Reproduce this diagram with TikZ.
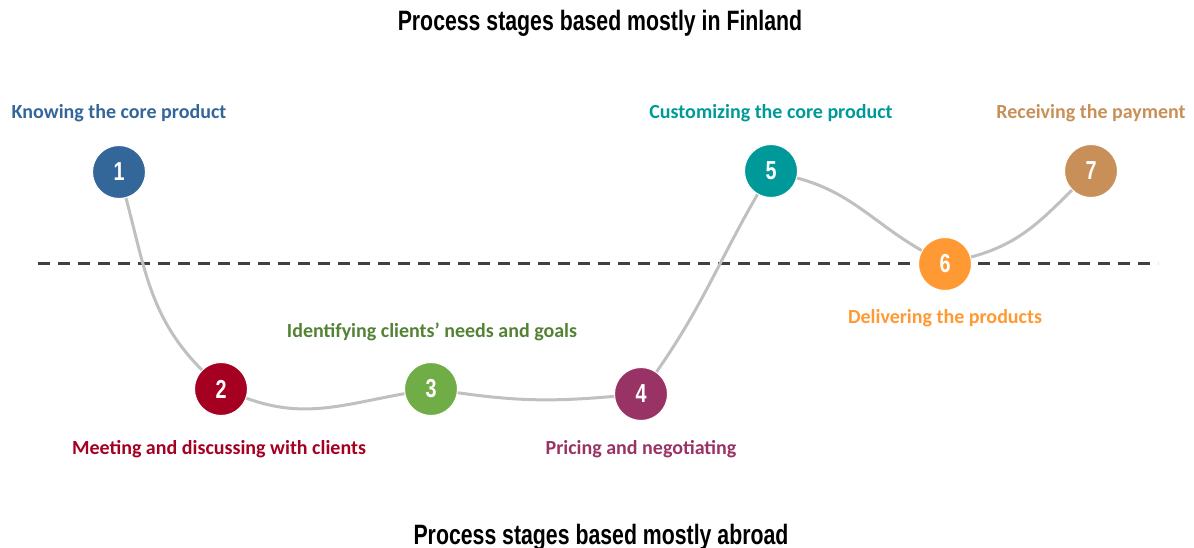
\documentclass[tikz,border=0pt]{standalone}
\usepackage{fontspec}
\setmainfont{Carlito}
\newfontfamily\headfont[FakeStretch=0.76]{Liberation Sans}
\definecolor{cOne}{HTML}{336699}
\definecolor{cTwo}{HTML}{A50021}
\definecolor{cThree}{HTML}{70AD47}
\definecolor{cThreeTxt}{HTML}{548235}
\definecolor{cFour}{HTML}{993366}
\definecolor{cFive}{HTML}{009999}
\definecolor{cSix}{HTML}{FF9933}
\definecolor{cSeven}{HTML}{C89058}
\definecolor{cWave}{HTML}{C0C0C0}
\definecolor{cDash}{HTML}{404040}
\tikzset{
  stage/.style={circle, fill=#1, draw=white, line width=1pt, minimum size=53pt, inner sep=0pt,
    text=white, font=\headfont\bfseries\fontsize{26}{26}\selectfont},
  stagelabel/.style={text=#1, font=\bfseries\fontsize{20}{20}\selectfont, inner sep=0pt},
  title/.style={font=\headfont\bfseries\fontsize{28}{28}\selectfont, inner sep=0pt},
  wave/.style={draw=cWave, line width=3pt}
}
\begin{document}
\begin{tikzpicture}[x=1pt,y=-1pt]
\useasboundingbox (0,0) rectangle (1194,548);
\node[title] (T_top) at (600,23) {Process stages based mostly in Finland};
\node[title] (T_bottom) at (601,537) {Process stages based mostly abroad};
\coordinate (D_left) at (38,263);
\coordinate (D_right) at (1158,263);
\draw[cDash, line width=3pt, dash pattern=on 12pt off 8pt] (D_left) -- (D_right);
\node[stage=cOne] (S_1) at (119,172) {1};
\node[stage=cTwo] (S_2) at (221,389) {2};
\node[stage=cThree] (S_3) at (431,389) {3};
\node[stage=cFour] (S_4) at (641,394) {4};
\node[stage=cFive] (S_5) at (771,171) {5};
\node[stage=cSix] (S_6) at (945,264) {6};
\node[stage=cSeven] (S_7) at (1091,171) {7};
\draw[wave] (S_1) to[out=-75,in=135] (S_2);
\draw[wave] (S_2) to[out=-20,in=190] (S_3);
\draw[wave] (S_3) to[out=-8,in=185] (S_4);
\draw[wave] (S_4) to[out=55,in=-120] (S_5);
\draw[wave] (S_5) to[out=-15,in=150] (S_6);
\draw[wave] (S_6) to[out=15,in=-135] (S_7);
\node[stagelabel=cOne] (L_1) at (119,113) {Knowing the core product};
\node[stagelabel=cTwo] (L_2) at (219,449) {Meeting and discussing with clients};
\node[stagelabel=cThreeTxt] (L_3) at (432,332) {Identifying clients’ needs and goals};
\node[stagelabel=cFour] (L_4) at (641,449) {Pricing and negotiating};
\node[stagelabel=cFive] (L_5) at (771,113) {Customizing the core product};
\node[stagelabel=cSix] (L_6) at (945,318) {Delivering the products};
\node[stagelabel=cSeven] (L_7) at (1091,113) {Receiving the payment};
\end{tikzpicture}
\end{document}
